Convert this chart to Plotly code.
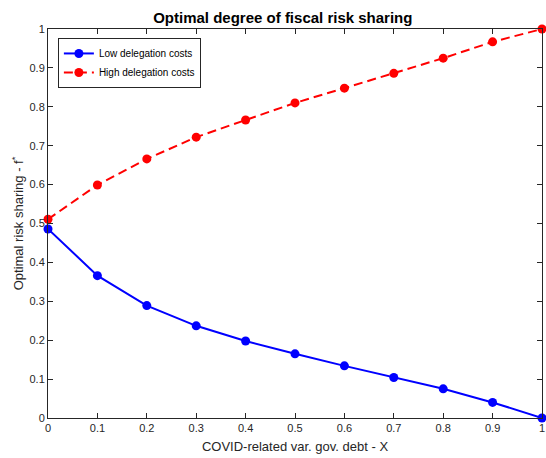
import plotly.graph_objects as go

x_vals = [0, 0.1, 0.2, 0.3, 0.4, 0.5, 0.6, 0.7, 0.8, 0.9, 1.0]
low_costs = [0.486, 0.366, 0.289, 0.237, 0.198, 0.165, 0.134, 0.104, 0.075, 0.040, 0.0]
high_costs = [0.511, 0.599, 0.666, 0.722, 0.766, 0.810, 0.848, 0.886, 0.925, 0.967, 1.0]
ticks = [0, 0.1, 0.2, 0.3, 0.4, 0.5, 0.6, 0.7, 0.8, 0.9, 1]
tick_text = ['0', '0.1', '0.2', '0.3', '0.4', '0.5', '0.6', '0.7', '0.8', '0.9', '1']

font = 'Liberation Sans, Arial, sans-serif'
axis_col = '#262626'

fig = go.Figure()
fig.add_trace(go.Scatter(x=x_vals, y=low_costs, mode='lines+markers', name='Low delegation costs',
                         line=dict(color='#0000ff', width=2),
                         marker=dict(color='#0000ff', size=9), cliponaxis=False))
fig.add_trace(go.Scatter(x=x_vals, y=high_costs, mode='lines+markers', name='High delegation costs',
                         line=dict(color='#ff0000', width=2, dash='9px,5px'),
                         marker=dict(color='#ff0000', size=9), cliponaxis=False))

axis_style = dict(range=[0, 1], tickvals=ticks, ticktext=tick_text, showgrid=False, zeroline=False,
                  showline=True, linecolor=axis_col, linewidth=1, mirror='ticks',
                  ticks='inside', ticklen=5, tickcolor=axis_col, automargin=False,
                  tickfont=dict(size=11, color=axis_col, family=font))

fig.update_xaxes(**axis_style, title=dict(text='COVID-related var. gov. debt - X',
                                          font=dict(size=13, color=axis_col, family=font), standoff=8))
fig.update_yaxes(**axis_style, title=dict(text='Optimal risk sharing - f<sup>*</sup>',
                                          font=dict(size=13, color=axis_col, family=font), standoff=2))

fig.update_layout(
    width=546, height=458,
    margin=dict(l=48, r=4, t=29, b=40),
    plot_bgcolor='white', paper_bgcolor='white',
    title=dict(text='<b>Optimal degree of fiscal risk sharing</b>', x=0.518, xanchor='center',
               y=0.961, yanchor='middle', font=dict(size=15, color='black', family=font)),
    legend=dict(x=0.02, y=0.977, xanchor='left', yanchor='top', bgcolor='white',
                bordercolor=axis_col, borderwidth=1, font=dict(size=10, color='black', family=font),
                tracegroupgap=0, itemwidth=30),
    showlegend=True,
)

# drop the default 8px body margin so the page is exactly the figure
fig.write_html('out.html', config={'displayModeBar': False},
               post_script="document.body.style.margin='0';")
